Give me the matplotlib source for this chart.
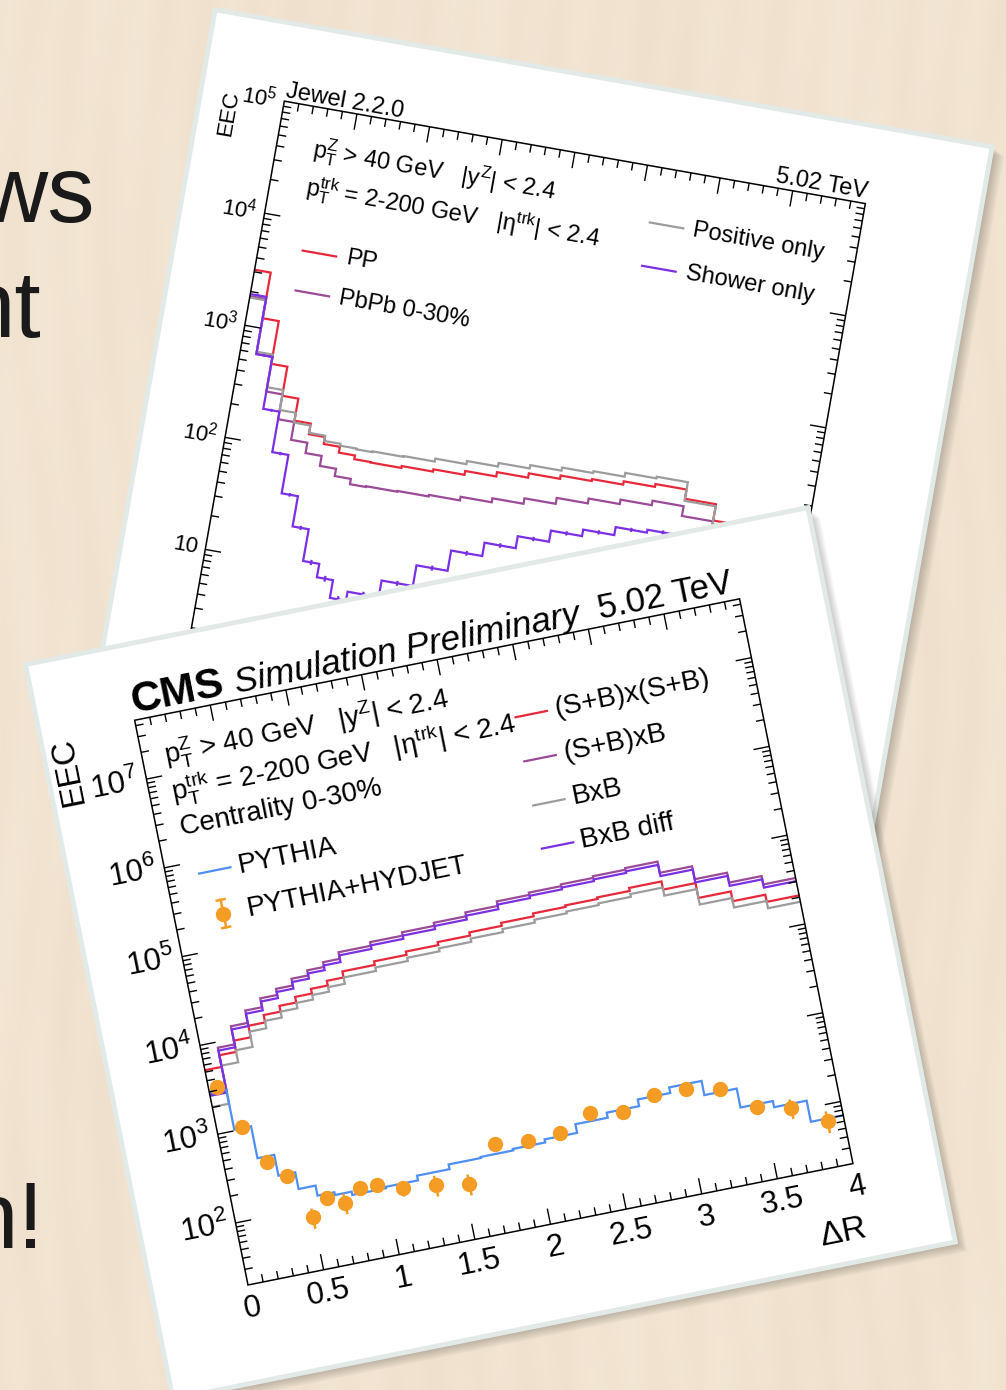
import numpy as np
import matplotlib
matplotlib.use('Agg')
import matplotlib.pyplot as plt
import matplotlib.transforms as mtransforms
import matplotlib.scale as mscale
from matplotlib.patches import Polygon
from matplotlib.collections import LineCollection

plt.rcParams['font.family'] = ['Liberation Sans', 'DejaVu Sans']
plt.rcParams['mathtext.fontset'] = 'custom'
plt.rcParams['mathtext.rm'] = 'Liberation Sans'
plt.rcParams['mathtext.it'] = 'Liberation Sans:italic'
plt.rcParams['mathtext.bf'] = 'Liberation Sans:bold'
plt.rcParams['mathtext.default'] = 'regular'

# Delta R binning shared by both canvases
dr_edges = [0.0, 0.111, 0.222, 0.333, 0.444, 0.556, 0.667, 0.778, 0.889, 1.0,
            1.214, 1.429, 1.643, 1.857, 2.071, 2.286, 2.5, 2.714, 2.929,
            3.143, 3.357, 3.571, 3.786, 4.0]

# Jewel 2.2.0 canvas
jewel_pp = [3130, 1225, 509, 280, 178, 143, 124, 110, 102, 101, 105, 110, 119,
            130, 142, 152, 158, 169, 179, 148, 106, 92, 84]
jewel_pbpb = [1820, 588, 288, 173, 120, 97, 79, 68, 61, 62, 63, 65, 70, 76,
              85, 96, 106, 116, 127, 104, 80, 70, 62]
jewel_positive = [1770, 615, 315, 209, 171, 147, 132, 127, 125, 127, 129, 137,
                  146, 157, 168, 179, 186, 201, 208, 142, 98, 86, 78]
jewel_shower = [1900, 586, 202, 88, 40, 21.5, 11.2, 8.5, 5.9, 7.1, 10.0, 15.3,
                23.2, 30.5, 39, 49, 56, 66, 70, 62, 52, 45, 40]
jewel_shower_err = [40, 14, 6, 3, 1.5, 0.9, 0.6, 0.5, 0.4, 0.4, 0.5, 0.8, 1.1,
                    1.4, 1.7, 2.1, 2.4, 2.8, 3.0, 2.8, 2.5, 2.2, 2.0]

# CMS simulation canvas
pythia = [2900, 1030, 450, 262, 170, 131, 122, 112, 112, 116, 131, 148, 152,
          158, 171, 214, 244, 290, 335, 232, 142, 121, 70]
pyhyd = [3290, 1070, 388, 249, 78, 119, 96, 128, 127, 103, 95, 83, 193, 178,
         184, 260, 229, 298, 299, 253, 132, 109, 66]
pyhyd_err = [90, 30, 15, 15, 20, 22, 25, 20, 22, 20, 25, 22, 20, 18, 18, 20,
             20, 22, 22, 20, 20, 27, 18]
sb_sb = [5250, 7100, 9500, 12800, 15500, 18000, 20800, 23500, 26500, 31000,
         34000, 37000, 40000, 43500, 47000, 50700, 52700, 54800, 59200, 47900,
         32600, 25300, 21000]
sb_b = [2820, 8630, 13800, 19000, 23900, 28000, 33300, 38000, 43000, 51000,
        56000, 61000, 66000, 73000, 82000, 87000, 91000, 95000, 99000, 74000,
        53000, 41000, 33000]
b_b = [2020, 5420, 7400, 11000, 13300, 15500, 17800, 20000, 22500, 26500,
       29000, 31500, 34000, 37000, 40000, 43000, 45000, 47000, 50500, 41000,
       27500, 21500, 17800]
b_b_diff = [2700, 8000, 12700, 17500, 22000, 25800, 30600, 35000, 39500, 47000,
            51500, 56000, 60700, 67000, 75500, 80000, 83700, 87400, 91000,
            68000, 48800, 37700, 30400]

x_ticks = [0, 0.5, 1, 1.5, 2, 2.5, 3, 3.5, 4]
x_tick_labels = ['0', '0.5', '1', '1.5', '2', '2.5', '3', '3.5', '4']

RED = '#e8283a'
PURPLE = '#9b4a98'
GRAY = '#9c9c9c'
VIOLET = '#7b2fe4'
BLUE = '#4f8ef2'
ORANGE = '#f59c25'

W_PX, H_PX = 1006, 1390
fig = plt.figure(figsize=(W_PX / 100, H_PX / 100), dpi=100)
ax = fig.add_axes([0, 0, 1, 1])

# wooden desk, soft vertical grain
yy, xx = np.mgrid[0:H_PX, 0:W_PX]
grain = (0.45 * np.sin(xx / 7.0 + 2.5 * np.sin(yy / 140.0))
         + 0.35 * np.sin(xx / 19.0 + 1.5 * np.sin(yy / 75.0 + 1.3))
         + 0.4 * np.sin(xx / 61.0 + yy / 400.0))
base = np.array([241, 227, 208]) / 255
wood = base[None, None, :] + grain[..., None] * np.array([2.0, 2.5, 3.2])[None, None, :] / 255
ax.imshow(np.clip(wood, 0, 1), extent=(0, W_PX, H_PX, 0), zorder=0,
          interpolation='bilinear', aspect='auto')
ax.set_xlim(0, W_PX)
ax.set_ylim(H_PX, 0)
ax.set_autoscale_on(False)
ax.axis('off')

# slide text peeking out from behind the printouts
ax.text(95, 222, 'ws', ha='right', va='baseline', fontsize=68, color='#1a1a1a', zorder=1)
ax.text(42, 337, 'nt', ha='right', va='baseline', fontsize=68, color='#1a1a1a', zorder=1)
ax.text(45, 1248, 'n!', ha='right', va='baseline', fontsize=68, color='#1a1a1a', zorder=1)


def page_affine(origin, angle):
    """Panel pixels (s right, t up) -> image pixels (y down)."""
    a = np.deg2rad(angle)
    m = np.array([[np.cos(a), -np.sin(a), origin[0]],
                  [-np.sin(a), -np.cos(a), origin[1]],
                  [0.0, 0.0, 1.0]])
    return mtransforms.Affine2D(m)


def data_transform(frame, xlim, ylim, width, height):
    scale = mtransforms.blended_transform_factory(
        mscale.LinearScale(None).get_transform(),
        mscale.LogScale(None).get_transform())
    ly0, ly1 = np.log10(ylim)
    fit = (mtransforms.Affine2D().translate(-xlim[0], -ly0)
           .scale(width / (xlim[1] - xlim[0]), height / (ly1 - ly0)))
    return scale + fit + frame


def draw_sheet(aff, s0, s1, t0, t1, z):
    pts = aff.transform([(s0, t0), (s1, t0), (s1, t1), (s0, t1)])
    for k in range(1, 9):
        ax.add_patch(Polygon(pts + np.array([1.5 * k, 1.2 * k]), closed=True,
                             fc='black', ec='none', alpha=0.03, zorder=z - 0.5))
    ax.add_patch(Polygon(pts, closed=True, fc='white', ec='#e2eae8', lw=3.5,
                         joinstyle='miter', zorder=z))


def draw_box(frame, width, height, xlim, ylim, z, major=16, minor=8):
    ax.add_patch(Polygon([(0, 0), (width, 0), (width, height), (0, height)],
                         closed=True, fill=False, ec='black', lw=1.1,
                         transform=frame, zorder=z))
    segs = []
    nx = int(round((xlim[1] - xlim[0]) / 0.1))
    for k in range(1, nx):
        s = k * 0.1 / (xlim[1] - xlim[0]) * width
        L = major if k % 5 == 0 else minor
        segs += [[(s, 0), (s, L)], [(s, height), (s, height - L)]]
    ly0, ly1 = np.log10(ylim)
    for d in range(int(np.floor(ly0)), int(np.ceil(ly1)) + 1):
        for m in range(1, 10):
            ly = d + np.log10(m)
            if ly <= ly0 + 1e-6 or ly >= ly1 - 1e-6:
                continue
            t = (ly - ly0) / (ly1 - ly0) * height
            L = major if m == 1 else minor
            segs += [[(0, t), (L, t)], [(width, t), (width - L, t)]]
    ax.add_collection(LineCollection(segs, colors='black', linewidths=1.0,
                                     transform=frame, zorder=z))


def ylabels(frame, ylim, height, angle, size, z):
    ly0, ly1 = np.log10(ylim)
    for d in range(int(np.ceil(ly0)), int(np.floor(ly1)) + 1):
        t = (d - ly0) / (ly1 - ly0) * height
        lab = '1' if d == 0 else ('10' if d == 1 else r'$10^{%d}$' % d)
        ax.text(-8, t, lab, transform=frame, rotation=angle, rotation_mode='anchor',
                ha='right', va='center', fontsize=size, zorder=z)


def ptext(frame, s, t, txt, angle, z, **kw):
    ax.text(s, t, txt, transform=frame, rotation=angle, rotation_mode='anchor',
            zorder=z, **kw)


centers = [(a + b) / 2 for a, b in zip(dr_edges[:-1], dr_edges[1:])]

# ---------------- Jewel canvas (back) ----------------
ANG_J = -10.0
WJ, HJ = 590, 569
YLIM_J = (1, 1e5)
aff_j = page_affine((185.5, 661.5), ANG_J)
frame_j = aff_j + ax.transData
tr_j = data_transform(frame_j, (0, 4), YLIM_J, WJ, HJ)

draw_sheet(aff_j, -84, 705, -110, 647, 2)
draw_box(frame_j, WJ, HJ, (0, 4), YLIM_J, 4)
ylabels(frame_j, YLIM_J, HJ, ANG_J, 16, 4)

for vals, col in [(jewel_pp, RED), (jewel_pbpb, PURPLE),
                  (jewel_positive, GRAY), (jewel_shower, VIOLET)]:
    ax.stairs(vals, dr_edges, baseline=None, color=col, lw=1.6,
              transform=tr_j, zorder=3)
lo = [v - e for v, e in zip(jewel_shower, jewel_shower_err)]
hi = [v + e for v, e in zip(jewel_shower, jewel_shower_err)]
ax.vlines(centers, lo, hi, colors=VIOLET, lw=1.6, transform=tr_j, zorder=3)

ptext(frame_j, 0, HJ + 4, 'Jewel 2.2.0', ANG_J, 4, fontsize=17, ha='left', va='baseline')
ptext(frame_j, WJ, HJ + 6, '5.02 TeV', ANG_J, 4, fontsize=17, ha='right', va='baseline')
ptext(frame_j, -53, HJ + 1, 'EEC', ANG_J + 90, 4, fontsize=16, ha='right', va='center')
ptext(frame_j, 36, 519, r'$p_{T}^{Z}$ > 40 GeV   |$y^{Z}$| < 2.4', ANG_J, 4,
      fontsize=17, ha='left', va='baseline')
ptext(frame_j, 36, 481, r'$p_{T}^{trk}$ = 2-200 GeV   |$\eta^{trk}$| < 2.4', ANG_J, 4,
      fontsize=17, ha='left', va='baseline')
for s0, t, col, lab in [(44, 425, RED, 'PP'), (44, 384.5, PURPLE, 'PbPb 0-30%'),
                        (381, 513, GRAY, 'Positive only'),
                        (381, 469, VIOLET, 'Shower only')]:
    ax.plot([s0, s0 + 34], [t, t], color=col, lw=1.6, transform=frame_j, zorder=4)
    ptext(frame_j, s0 + 44, t, lab, ANG_J, 4, fontsize=17, ha='left', va='center')

# ---------------- CMS canvas (front) ----------------
ANG_C = 11.35
WC, HC = 617, 576
YLIM_C = (20, 4.6e7)
aff_c = page_affine((248, 1285), ANG_C)
frame_c = aff_c + ax.transData
tr_c = data_transform(frame_c, (0, 4), YLIM_C, WC, HC)

draw_sheet(aff_c, -96, 702, -97, 652, 6)
draw_box(frame_c, WC, HC, (0, 4), YLIM_C, 8)
ylabels(frame_c, YLIM_C, HC, ANG_C, 22.5, 8)
for x, lab in zip(x_ticks, x_tick_labels):
    ptext(frame_c, x / 4 * WC, -9, lab, ANG_C, 8, fontsize=22.5, ha='center', va='top')

for vals, col in [(sb_sb, RED), (sb_b, PURPLE), (b_b, GRAY), (b_b_diff, VIOLET),
                  (pythia, BLUE)]:
    ax.stairs(vals, dr_edges, baseline=None, color=col, lw=1.6,
              transform=tr_c, zorder=7)
lo = [v - e for v, e in zip(pyhyd, pyhyd_err)]
hi = [v + e for v, e in zip(pyhyd, pyhyd_err)]
ax.vlines(centers, lo, hi, colors=ORANGE, lw=1.8, transform=tr_c, zorder=7.5)
ax.plot(centers, pyhyd, 'o', ms=10, color=ORANGE, mec=ORANGE, transform=tr_c, zorder=7.6)

ptext(frame_c, 0, 583, 'CMS', ANG_C, 8, fontsize=30.5, fontweight='bold',
      ha='left', va='baseline')
ptext(frame_c, 105, 583, 'Simulation Preliminary', ANG_C, 8, fontsize=25.5,
      fontstyle='italic', ha='left', va='baseline')
ptext(frame_c, 613, 584, '5.02 TeV', ANG_C, 8, fontsize=25, ha='right', va='baseline')
ptext(frame_c, -75, 574, 'EEC', ANG_C + 90, 8, fontsize=24, ha='right', va='center')
ptext(frame_c, WC, -66, r'$\Delta$R', ANG_C, 8, fontsize=24, ha='right', va='center')

ptext(frame_c, 22, 526, r'$p_{T}^{Z}$ > 40 GeV   |$y^{Z}$| < 2.4', ANG_C, 8,
      fontsize=20, ha='left', va='baseline')
ptext(frame_c, 22, 490, r'$p_{T}^{trk}$ = 2-200 GeV   |$\eta^{trk}$| < 2.4', ANG_C, 8,
      fontsize=20, ha='left', va='baseline')
ptext(frame_c, 24, 454, 'Centrality 0-30%', ANG_C, 8, fontsize=20, ha='left', va='baseline')

for t, col, lab in [(504, RED, '(S+B)x(S+B)'), (459, PURPLE, '(S+B)xB'),
                    (414, GRAY, 'BxB'), (370, VIOLET, 'BxB diff')]:
    ax.plot([374, 406], [t, t], color=col, lw=1.6, transform=frame_c, zorder=8)
    ptext(frame_c, 414, t, lab, ANG_C, 8, fontsize=20, ha='left', va='center')

ax.plot([33, 65], [413, 413], color=BLUE, lw=1.6, transform=frame_c, zorder=8)
ptext(frame_c, 73, 413, 'PYTHIA', ANG_C, 8, fontsize=20, ha='left', va='center')
ax.plot([49, 49], [355, 383], color=ORANGE, lw=1.8, transform=frame_c, zorder=8)
for tc in (355, 383):
    ax.plot([45, 53], [tc, tc], color=ORANGE, lw=1.8, transform=frame_c, zorder=8)
ax.plot([49], [369], 'o', ms=10, color=ORANGE, transform=frame_c, zorder=8)
ptext(frame_c, 73, 369, 'PYTHIA+HYDJET', ANG_C, 8, fontsize=20, ha='left', va='center')

fig.savefig('out.png', dpi=100)
